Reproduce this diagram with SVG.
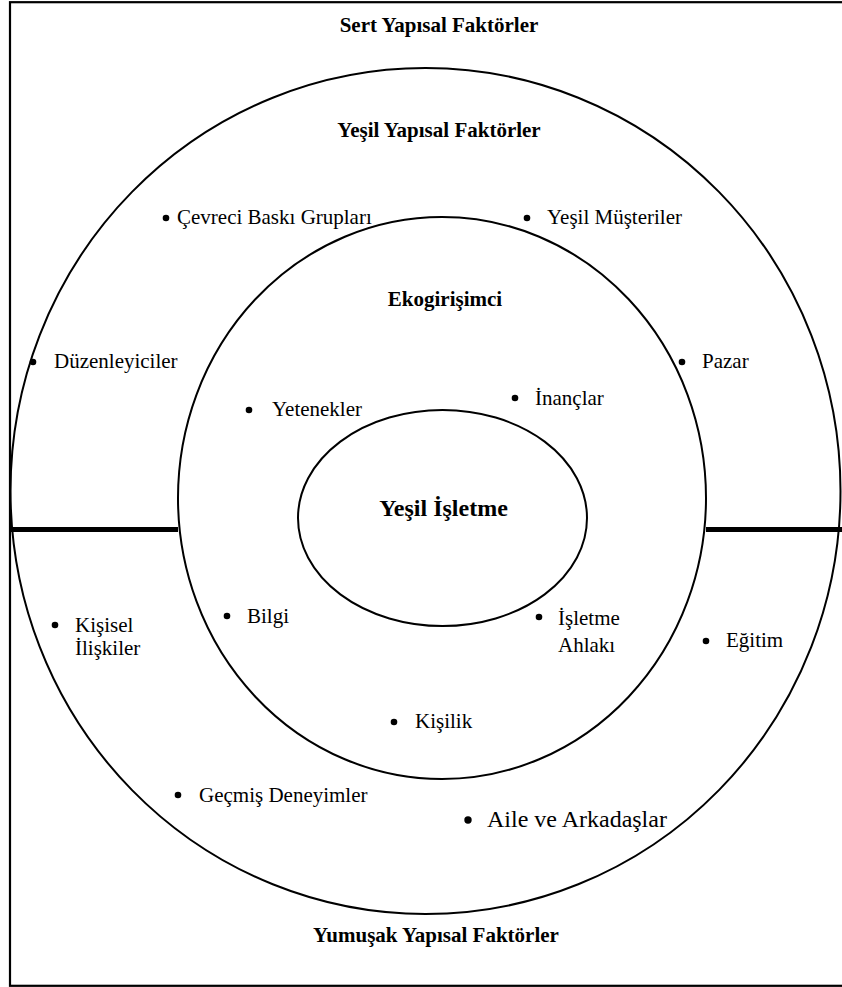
<svg xmlns="http://www.w3.org/2000/svg" width="842" height="987" viewBox="0 0 842 987">
  <style>
    text { font-family: "Liberation Serif", "Times New Roman", Tinos, "DejaVu Serif", serif; font-size: 21px; fill: #000; }
    .b { font-weight: bold; text-anchor: middle; }
    .big { font-size: 24px; }
    .ring { fill: none; stroke: #000; stroke-width: 2; }
    .dot { fill: #000; }
  </style>
  <rect x="0" y="0" width="842" height="987" fill="#fff"/>
  <rect id="frame" x="10" y="2.2" width="840" height="983.6" fill="none" stroke="#000" stroke-width="2.2"/>

  <g id="outer-ring">
    <ellipse class="ring" cx="425.5" cy="491" rx="415" ry="423"/>
  </g>
  <g id="divider">
    <line x1="10" y1="529.5" x2="178" y2="529.5" stroke="#000" stroke-width="5"/>
    <line x1="706" y1="529.5" x2="842" y2="529.5" stroke="#000" stroke-width="5"/>
  </g>
  <g id="middle-ring">
    <ellipse class="ring" cx="442" cy="498" rx="264" ry="281"/>
  </g>
  <g id="inner-ring">
    <ellipse class="ring" cx="442.5" cy="518" rx="144.5" ry="108" stroke-width="1.6"/>
  </g>

  <g id="titles" font-family="Liberation Serif, serif">
    <text class="b" x="439" y="32">Sert Yapısal Faktörler</text>
    <text class="b" x="439" y="137">Yeşil Yapısal Faktörler</text>
    <text class="b" x="445" y="306">Ekogirişimci</text>
    <text class="b big" x="443.5" y="516">Yeşil İşletme</text>
    <text class="b" x="436" y="942">Yumuşak Yapısal Faktörler</text>
  </g>

  <g id="item-cevreci"><circle class="dot" cx="166" cy="218" r="3.3"/><text x="177" y="224">Çevreci Baskı Grupları</text></g>
  <g id="item-musteriler"><circle class="dot" cx="527" cy="218" r="3.3"/><text x="547" y="224">Yeşil Müşteriler</text></g>
  <g id="item-duzenleyiciler"><circle class="dot" cx="33" cy="362" r="3.3"/><text x="54" y="368">Düzenleyiciler</text></g>
  <g id="item-pazar"><circle class="dot" cx="682" cy="362" r="3.3"/><text x="702" y="368">Pazar</text></g>
  <g id="item-yetenekler"><circle class="dot" cx="249" cy="410" r="3.3"/><text x="272" y="416">Yetenekler</text></g>
  <g id="item-inanclar"><circle class="dot" cx="515" cy="398" r="3.3"/><text x="535" y="405">İnançlar</text></g>
  <g id="item-kisisel"><circle class="dot" cx="55" cy="625" r="3.3"/><text x="75" y="632">Kişisel</text><text x="75" y="655">İlişkiler</text></g>
  <g id="item-bilgi"><circle class="dot" cx="227" cy="616" r="3.3"/><text x="247" y="623">Bilgi</text></g>
  <g id="item-ahlak"><circle class="dot" cx="539" cy="617" r="3.3"/><text x="558" y="625">İşletme</text><text x="558" y="652">Ahlakı</text></g>
  <g id="item-egitim"><circle class="dot" cx="706" cy="641" r="3.3"/><text x="726" y="647">Eğitim</text></g>
  <g id="item-kisilik"><circle class="dot" cx="394" cy="722" r="3.3"/><text x="415" y="728">Kişilik</text></g>
  <g id="item-gecmis"><circle class="dot" cx="178" cy="795" r="3.3"/><text x="199" y="802">Geçmiş Deneyimler</text></g>
  <g id="item-aile"><circle class="dot" cx="468" cy="820" r="3.7"/><text class="big" x="487" y="827">Aile ve Arkadaşlar</text></g>
</svg>
